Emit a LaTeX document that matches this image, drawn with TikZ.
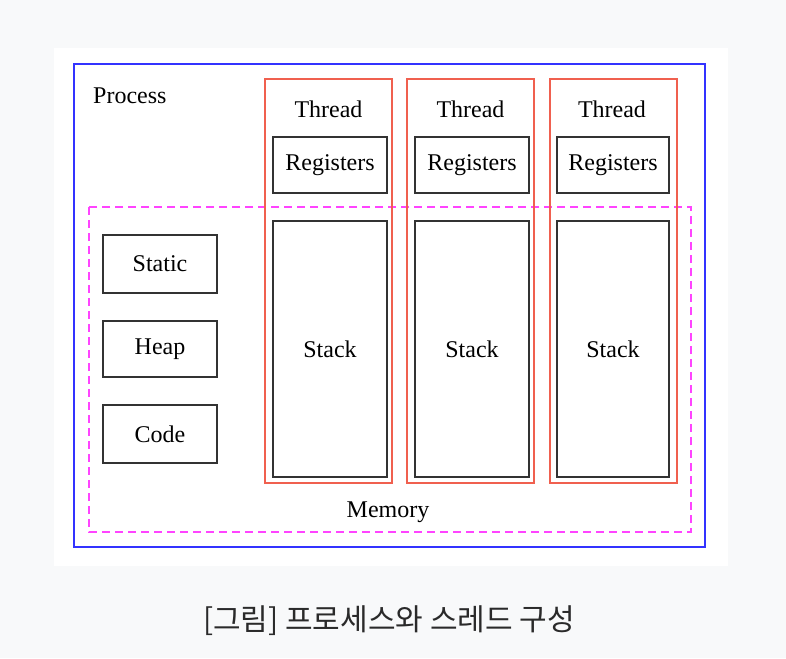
\documentclass[tikz,border=0pt]{standalone}
\usepackage{fontspec}
\setmainfont{Liberation Serif}
\newfontfamily\cjk{Noto Sans CJK KR}
\definecolor{pagebg}{HTML}{F8F9FA}
\definecolor{procblue}{HTML}{3333FF}
\definecolor{thrred}{HTML}{F0604F}
\definecolor{memmag}{HTML}{FF44FF}
\definecolor{boxline}{HTML}{333333}
\definecolor{captext}{HTML}{2A2A2A}
\tikzset{
  box/.style={draw=boxline,line width=2pt,rectangle,inner sep=0pt,font=\fontsize{24}{27}\selectfont},
  thread/.style={draw=thrred,line width=2pt,rectangle,inner sep=0pt},
  lbl/.style={inner sep=0pt,font=\fontsize{24}{27}\selectfont}
}
\begin{document}
\begin{tikzpicture}[x=1pt,y=-1pt]
  \useasboundingbox (0,0) rectangle (786,658);
  \fill[pagebg] (0,0) rectangle (786,658);
  \fill[white] (54,48) rectangle (728,566);
  % process and memory
  \draw[procblue,line width=2pt] (74,64) rectangle (705,547);
  \draw[memmag,line width=2pt,dash pattern=on 8pt off 5pt] (89,207) rectangle (691,532);
  \node[lbl,anchor=west] (proc) at (93,96) {Process};
  \node[lbl] (mem) at (388,512) {Memory};
  % shared segments
  \node[box,minimum width=114,minimum height=58] (static) at (160,264) {Static};
  \node[box,minimum width=114,minimum height=56] (heap) at (160,349) {Heap};
  \node[box,minimum width=114,minimum height=58] (code) at (160,434) {Code};
  % thread 1
  \node[thread,minimum width=127,minimum height=404] (t1) at (328.5,281) {};
  \node[lbl] (t1name) at (328.5,109) {Thread};
  \node[box,minimum width=114,minimum height=56] (reg1) at (330,165) {Registers};
  \node[box,minimum width=114,minimum height=256] (stk1) at (330,349) {Stack};
  % thread 2
  \node[thread,minimum width=127,minimum height=404] (t2) at (470.5,281) {};
  \node[lbl] (t2name) at (470.5,109) {Thread};
  \node[box,minimum width=114,minimum height=56] (reg2) at (472,165) {Registers};
  \node[box,minimum width=114,minimum height=256] (stk2) at (472,349) {Stack};
  % thread 3
  \node[thread,minimum width=127,minimum height=404] (t3) at (613,281) {};
  \node[lbl] (t3name) at (612,109) {Thread};
  \node[box,minimum width=112,minimum height=56] (reg3) at (613,165) {Registers};
  \node[box,minimum width=112,minimum height=256] (stk3) at (613,349) {Stack};
  % caption
  \node[inner sep=0pt,text=captext,font=\cjk\fontsize{30}{34}\selectfont] (cap) at (389,621) {[그림] 프로세스와 스레드 구성};
\end{tikzpicture}
\end{document}
